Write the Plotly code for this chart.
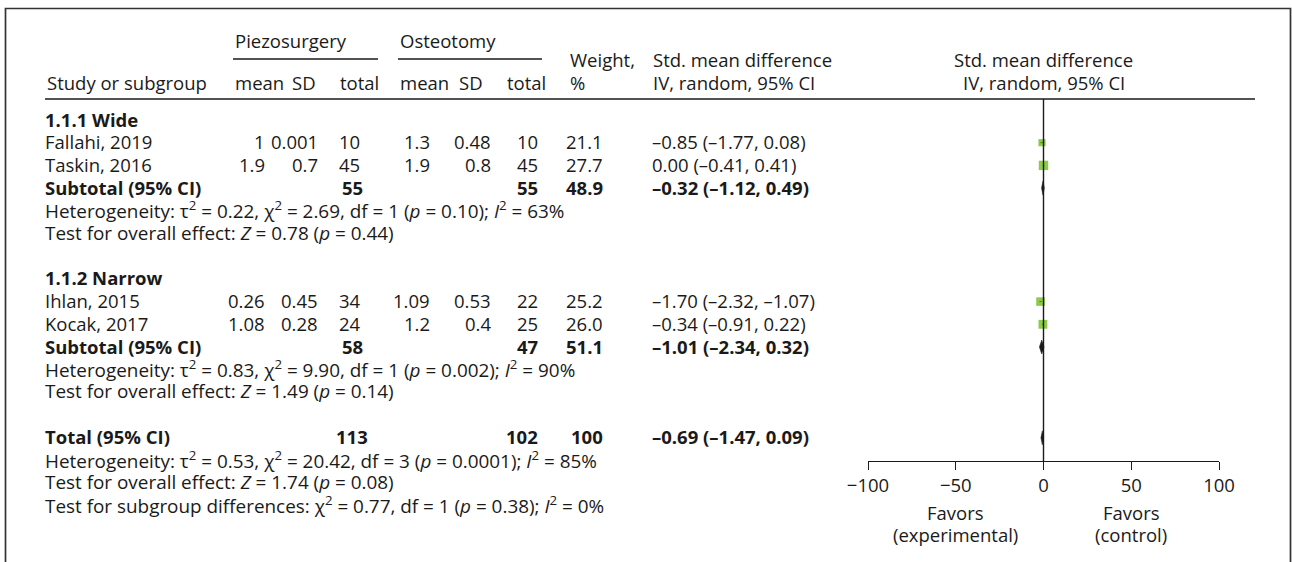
import plotly.graph_objects as go

# ---- study-level data ----
studies = ["Fallahi, 2019", "Taskin, 2016", "Ihlan, 2015", "Kocak, 2017"]
study_rows = [1, 2, 8, 9]
piezo_mean = [1, 1.9, 0.26, 1.08]
piezo_sd = [0.001, 0.7, 0.45, 0.28]
piezo_n = [10, 45, 34, 24]
osteo_mean = [1.3, 1.9, 1.09, 1.2]
osteo_sd = [0.48, 0.8, 0.53, 0.4]
osteo_n = [10, 45, 22, 25]
weights = [21.1, 27.7, 25.2, 26.0]
smd = [-0.85, 0.00, -1.70, -0.34]
smd_lo = [-1.77, -0.41, -2.32, -0.91]
smd_hi = [0.08, 0.41, -1.07, 0.22]

# ---- pooled estimates (wide subgroup, narrow subgroup, overall) ----
pooled_labels = ["Subtotal (95% CI)", "Subtotal (95% CI)", "Total (95% CI)"]
pooled_rows = [3, 10, 14]
pooled_piezo_n = [55, 58, 113]
pooled_osteo_n = [55, 47, 102]
pooled_weight = [48.9, 51.1, 100]
pooled_smd = [-0.32, -1.01, -0.69]
pooled_lo = [-1.12, -2.34, -1.47]
pooled_hi = [0.49, 0.32, 0.09]

subgroup_titles = ["1.1.1 Wide", "1.1.2 Narrow"]
subgroup_rows = [0, 7]

stat_lines = [
    "Heterogeneity: τ<sup>2</sup> = 0.22, χ<sup>2</sup> = 2.69, df = 1 (<i>p</i> = 0.10); <i>I</i><sup>2</sup> = 63%",
    "Test for overall effect: <i>Z</i> = 0.78 (<i>p</i> = 0.44)",
    "Heterogeneity: τ<sup>2</sup> = 0.83, χ<sup>2</sup> = 9.90, df = 1 (<i>p</i> = 0.002); <i>I</i><sup>2</sup> = 90%",
    "Test for overall effect: <i>Z</i> = 1.49 (<i>p</i> = 0.14)",
    "Heterogeneity: τ<sup>2</sup> = 0.53, χ<sup>2</sup> = 20.42, df = 3 (<i>p</i> = 0.0001); <i>I</i><sup>2</sup> = 85%",
    "Test for overall effect: <i>Z</i> = 1.74 (<i>p</i> = 0.08)",
    "Test for subgroup differences: χ<sup>2</sup> = 0.77, df = 1 (<i>p</i> = 0.38); <i>I</i><sup>2</sup> = 0%",
]
stat_rows = [4, 5, 11, 12, 15, 16, 17]

axis_ticks = [-100, -50, 0, 50, 100]

# ---- layout constants ----
W, H = 1292, 562
ROW0_PX, ROW_PX = 120, 22.7            # pixel centre of row 0, row pitch
TEXT_DY = -1.0 / ROW_PX                # nudge text baselines up by ~1px
FONT = "Open Sans"
FS = 18.5
STAT_FS = 18.9
INK = "#1a1a1a"
GREEN = "#5cb400"


def row_of(px):
    return (px - ROW0_PX) / ROW_PX


def fmt_ci(e, lo, hi):
    return f"{e:.2f} ({lo:.2f}, {hi:.2f})".replace("-", "–")


annotations = []


def txt(x, row, text, anchor="left", size=FS, xref="x", yref="y"):
    annotations.append(dict(
        x=x, y=row + TEXT_DY, xref=xref, yref=yref, text=text, showarrow=False,
        xanchor=anchor, yanchor="middle",
        font=dict(family=FONT, size=size, color=INK),
    ))


# column headers
r_top, r_mid, r_bot = row_of(41), row_of(60), row_of(83)
txt(233, r_top, "Piezosurgery")
txt(398, r_top, "Osteotomy")
txt(45, r_bot, "Study or subgroup")
for x0, lab in [(233, "mean"), (290, "SD"), (338, "total"),
                (398, "mean"), (457, "SD"), (505, "total")]:
    txt(x0, r_bot, lab)
txt(568, r_mid, "Weight,")
txt(568, r_bot, "%")
txt(651, r_mid, "Std. mean difference")
txt(651, r_bot, "IV, random, 95% CI")
txt(0, r_mid, "Std. mean difference", anchor="center", xref="x2")
txt(0, r_bot, "IV, random, 95% CI", anchor="center", xref="x2")

# subgroup titles
for r, t in zip(subgroup_rows, subgroup_titles):
    txt(43, r, f"<b>{t}</b>")

# study rows
for i, r in enumerate(study_rows):
    txt(43, r, studies[i])
    txt(267, r, str(piezo_mean[i]), "right")
    txt(320, r, str(piezo_sd[i]), "right")
    txt(349.5, r, str(piezo_n[i]), "center")
    txt(432, r, str(osteo_mean[i]), "right")
    txt(493, r, str(osteo_sd[i]), "right")
    txt(540, r, str(osteo_n[i]), "right")
    txt(605, r, f"{weights[i]:.1f}", "right")
    txt(650, r, fmt_ci(smd[i], smd_lo[i], smd_hi[i]))

# pooled rows
for i, r in enumerate(pooled_rows):
    w = pooled_weight[i]
    wtxt = f"{w:.1f}" if w != 100 else "100"
    txt(43, r, f"<b>{pooled_labels[i]}</b>")
    txt(352, r, f"<b>{pooled_piezo_n[i]}</b>", "center")
    txt(540, r, f"<b>{pooled_osteo_n[i]}</b>", "right")
    txt(605, r, f"<b>{wtxt}</b>", "right")
    txt(650, r, f"<b>{fmt_ci(pooled_smd[i], pooled_lo[i], pooled_hi[i])}</b>")

# heterogeneity / test statistics
for r, t in zip(stat_rows, stat_lines):
    txt(43, r, t, size=STAT_FS)

# favours labels under the axis
txt(-50, row_of(513), "Favors", "center", xref="x2")
txt(-50, row_of(535), "(experimental)", "center", xref="x2")
txt(50, row_of(513), "Favors", "center", xref="x2")
txt(50, row_of(535), "(control)", "center", xref="x2")

fig = go.Figure()

# study squares with CI whiskers
for i, r in enumerate(study_rows):
    fig.add_trace(go.Scatter(
        x=[smd_lo[i], smd_hi[i]], y=[r, r], mode="lines",
        line=dict(color=INK, width=1), xaxis="x2", yaxis="y2",
        showlegend=False, hoverinfo="skip"))
fig.add_trace(go.Scatter(
    x=smd, y=study_rows, mode="markers", xaxis="x2", yaxis="y2",
    marker=dict(symbol="square", color=GREEN, size=[w * 0.34 for w in weights],
                line=dict(width=0)),
    showlegend=False, hoverinfo="skip"))

# pooled diamonds
half_h = 7 / ROW_PX
for i, r in enumerate(pooled_rows):
    fig.add_trace(go.Scatter(
        x=[pooled_lo[i], pooled_smd[i], pooled_hi[i], pooled_smd[i], pooled_lo[i]],
        y=[r, r - half_h, r, r + half_h, r],
        mode="lines", fill="toself", fillcolor=INK,
        line=dict(color=INK, width=0.5), xaxis="x2", yaxis="y2",
        showlegend=False, hoverinfo="skip"))

shapes = [
    # outer frame
    dict(type="rect", xref="x", yref="paper", x0=5.5, x1=1290.5,
         y0=-0.05, y1=1 - 8.5 / H, line=dict(color="#333333", width=1.7)),
    # rule under the header
    dict(type="line", xref="x", yref="y", x0=45, x1=1255,
         y0=row_of(99), y1=row_of(99), line=dict(color=INK, width=1.4)),
    # group underlines
    dict(type="line", xref="x", yref="y", x0=233, x1=378,
         y0=row_of(59), y1=row_of(59), line=dict(color=INK, width=1.3)),
    dict(type="line", xref="x", yref="y", x0=398, x1=542,
         y0=row_of(59), y1=row_of(59), line=dict(color=INK, width=1.3)),
    # line of no effect
    dict(type="line", xref="x2", yref="y2", x0=0, x1=0,
         y0=row_of(99), y1=row_of(461), line=dict(color=INK, width=1.4)),
]

axis_px_bottom = 461
fig.update_layout(
    width=W, height=H, margin=dict(l=0, r=0, t=0, b=0, autoexpand=False),
    paper_bgcolor="white", plot_bgcolor="rgba(0,0,0,0)",
    showlegend=False,
    xaxis=dict(domain=[0, 1], range=[0, W], visible=False, fixedrange=True,
               automargin=False),
    yaxis=dict(domain=[0, 1], range=[row_of(H), row_of(0)], visible=False,
               fixedrange=True, automargin=False),
    xaxis2=dict(domain=[868 / W, 1219 / W], range=[-100, 100], anchor="y2",
                showline=True, linecolor=INK, linewidth=1.4,
                ticks="outside", ticklen=8, tickwidth=1.4, tickcolor=INK,
                tickvals=axis_ticks, showgrid=False, zeroline=False,
                tickfont=dict(family=FONT, size=FS, color=INK), fixedrange=True,
                automargin=False),
    yaxis2=dict(domain=[1 - axis_px_bottom / H, 1],
                range=[row_of(axis_px_bottom), row_of(0)], anchor="x2",
                visible=False, fixedrange=True, automargin=False),
    annotations=annotations,
    shapes=shapes,
)

fig.write_html("out.html")
